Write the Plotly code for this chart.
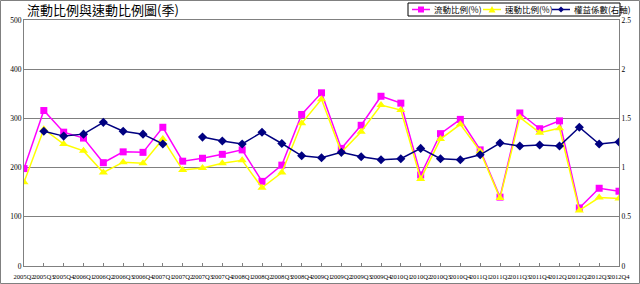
import plotly.graph_objects as go

quarters = ["2005Q2", "2005Q3", "2005Q4",
            "2006Q1", "2006Q2", "2006Q3", "2006Q4",
            "2007Q1", "2007Q2", "2007Q3", "2007Q4",
            "2008Q1", "2008Q2", "2008Q3", "2008Q4",
            "2009Q1", "2009Q2", "2009Q3", "2009Q4",
            "2010Q1", "2010Q2", "2010Q3", "2010Q4",
            "2011Q1", "2011Q2", "2011Q3", "2011Q4",
            "2012Q1", "2012Q2", "2012Q3", "2012Q4"]

current_ratio = [198, 316, 272, 260, 210, 232, 231, 282, 213, 219, 227,
                 236, 172, 205, 308, 352, 239, 286, 345, 331, 185,
                 269, 298, 236, 140, 311, 279, 295, 118, 158, 152]

quick_ratio = [170, 278, 248, 234, 190, 211, 209, 258, 195, 199, 209,
               215, 159, 190, 290, 339, 231, 273, 327, 317, 177,
               258, 288, 233, 138, 302, 271, 280, 113, 139, 137]

equity_multiplier = [None, 1.37, 1.32, 1.34, 1.46, 1.37, 1.34, 1.24, None, 1.31, 1.27,
                     1.24, 1.36, 1.245, 1.12, 1.10, 1.155, 1.11, 1.08, 1.09, 1.195,
                     1.09, 1.08, 1.13, 1.25, 1.22, 1.23, 1.22, 1.41, 1.24, 1.26]

series_names = ["流動比例(%)", "速動比例(%)", "權益係數(右軸)"]
series_colors = ["#FF00FF", "#FFFF00", "#000080"]
title_text = "流動比例與速動比例圖(季)"

x = list(range(len(quarters)))

W, H = 640, 284
ml, mr, mt, mb = 24, 21, 20, 18
pw, ph = W - ml - mr, H - mt - mb

fig = go.Figure()
fig.add_trace(go.Scatter(x=x, y=current_ratio, name=series_names[0], mode="lines+markers",
                         line=dict(color=series_colors[0], width=1.5),
                         marker=dict(symbol="square", size=7, color=series_colors[0])))
fig.add_trace(go.Scatter(x=x, y=quick_ratio, name=series_names[1], mode="lines+markers",
                         line=dict(color=series_colors[1], width=1.5),
                         marker=dict(symbol="triangle-up", size=8, color=series_colors[1])))
fig.add_trace(go.Scatter(x=x, y=equity_multiplier, name=series_names[2], mode="lines+markers",
                         yaxis="y2", connectgaps=False,
                         line=dict(color=series_colors[2], width=1.5),
                         marker=dict(symbol="diamond", size=7, color=series_colors[2])))

tickfont = dict(family="Liberation Serif", size=7.5, color="#000000")
xtickfont = dict(family="Liberation Serif", size=6.6, color="#000000")

fig.update_layout(
    width=W, height=H,
    margin=dict(l=ml, r=mr, t=mt, b=mb, pad=0, autoexpand=False),
    paper_bgcolor="white", plot_bgcolor="white",
    showlegend=False,
    xaxis=dict(range=[0, len(quarters) - 1], tickmode="array", tickvals=x, ticktext=quarters,
               tickangle=0, tickfont=xtickfont, showgrid=False, zeroline=False,
               showline=True, linecolor="#808080", linewidth=1, mirror=True,
               ticks="inside", ticklen=3, tickcolor="#808080", automargin=False,
               ticklabelstandoff=4),
    yaxis=dict(range=[0, 500], dtick=100, tickfont=tickfont, showgrid=True,
               gridcolor="#808080", gridwidth=1, zeroline=False, automargin=False,
               showline=True, linecolor="#808080", linewidth=1, ticks=""),
    yaxis2=dict(range=[0, 2.5], dtick=0.5, overlaying="y", side="right", tickfont=tickfont,
                showgrid=False, zeroline=False, showline=True, linecolor="#808080",
                linewidth=1, ticks="", automargin=False),
)

def px_x(p):
    return (p - ml) / pw

def px_y(p):
    return (H - mb - p) / ph

# outer frame
fig.add_shape(type="rect", xref="paper", yref="paper",
              x0=px_x(0.5), x1=px_x(W - 0.5), y0=px_y(H - 0.5), y1=px_y(0.5),
              line=dict(color="#808080", width=1), layer="below")

# title
fig.add_annotation(text=title_text, xref="paper", yref="paper", x=px_x(25), y=px_y(10),
                   xanchor="left", yanchor="middle", showarrow=False,
                   font=dict(family="Noto Sans CJK TC", size=13, color="#000000"))

# legend (manual)
lx0, lx1, ly0, ly1 = 408, 620, 3, 16
fig.add_shape(type="rect", xref="paper", yref="paper",
              x0=px_x(lx0), x1=px_x(lx1), y0=px_y(ly1), y1=px_y(ly0),
              line=dict(color="#000000", width=1), fillcolor="white")
ly = (ly0 + ly1) / 2
starts = [412, 483, 552]
for i, s in enumerate(starts):
    c = series_colors[i]
    fig.add_shape(type="line", xref="paper", yref="paper",
                  x0=px_x(s), x1=px_x(s + 18), y0=px_y(ly), y1=px_y(ly),
                  line=dict(color=c, width=1.5))
    cx = s + 9
    if i == 0:
        path = f"M {px_x(cx-3)} {px_y(ly-3)} L {px_x(cx+3)} {px_y(ly-3)} L {px_x(cx+3)} {px_y(ly+3)} L {px_x(cx-3)} {px_y(ly+3)} Z"
    elif i == 1:
        path = f"M {px_x(cx)} {px_y(ly-3.5)} L {px_x(cx+3.5)} {px_y(ly+3)} L {px_x(cx-3.5)} {px_y(ly+3)} Z"
    else:
        path = f"M {px_x(cx)} {px_y(ly-3)} L {px_x(cx+3)} {px_y(ly)} L {px_x(cx)} {px_y(ly+3)} L {px_x(cx-3)} {px_y(ly)} Z"
    fig.add_shape(type="path", xref="paper", yref="paper", path=path,
                  fillcolor=c, line=dict(color=c, width=0))
    fig.add_annotation(text=series_names[i], xref="paper", yref="paper",
                       x=px_x(s + 20), y=px_y(ly), xanchor="left", yanchor="middle",
                       showarrow=False,
                       font=dict(family="Noto Sans CJK TC", size=8.5, color="#000000"))

fig.write_html("out.html")
